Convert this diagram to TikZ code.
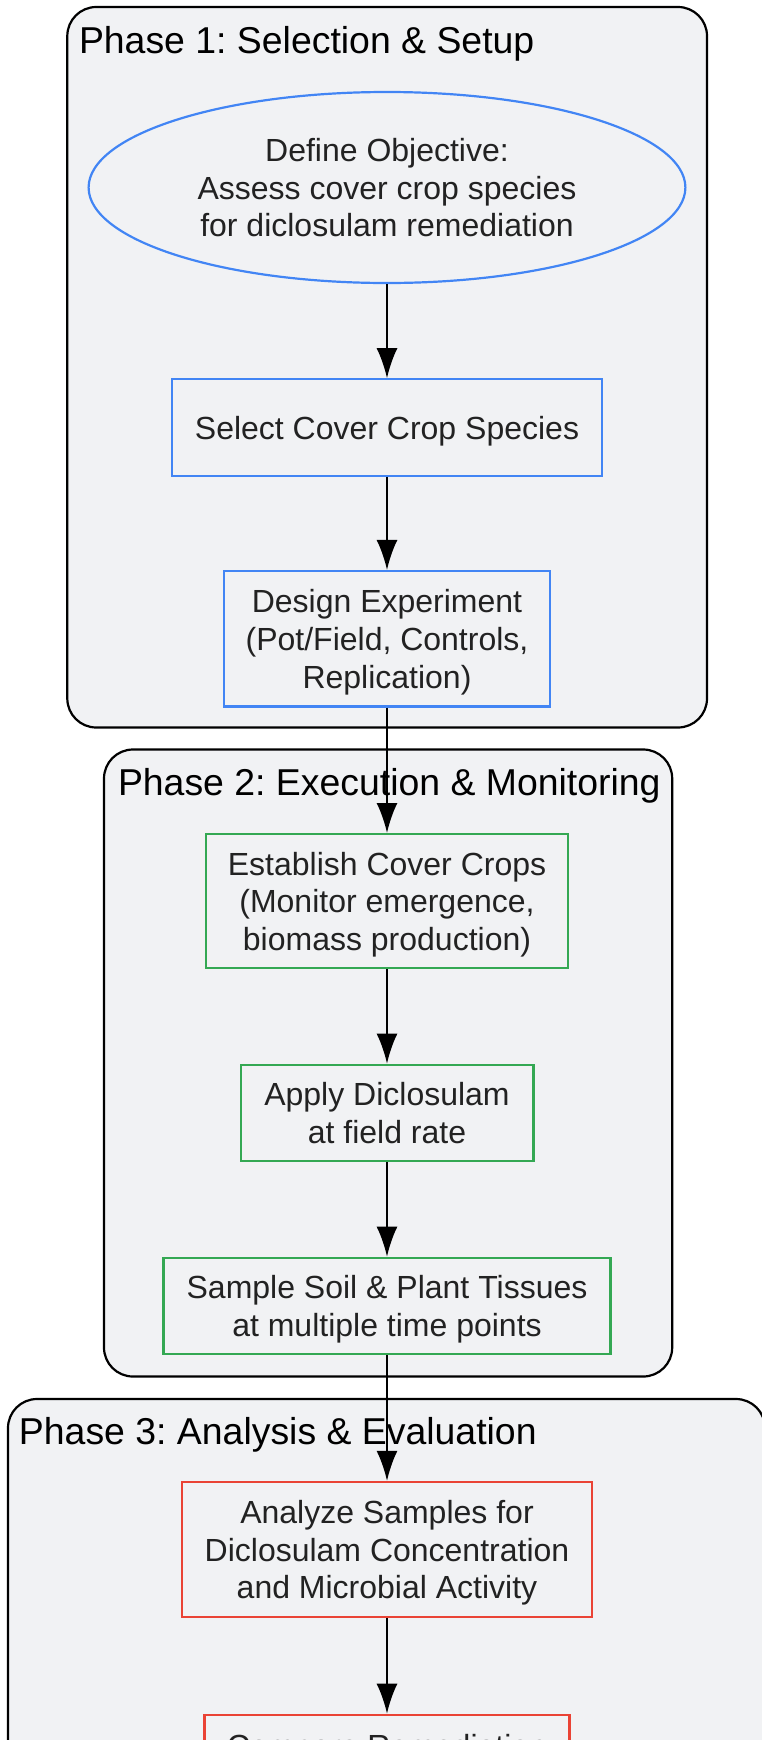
\documentclass[tikz,border=0pt]{standalone}
\usepackage{fontspec}
\setmainfont{Liberation Sans}
\usetikzlibrary{arrows.meta,shapes.geometric}
\frenchspacing

\definecolor{phasefill}{HTML}{F1F2F4}
\definecolor{objblue}{HTML}{4285F4}
\definecolor{rungreen}{HTML}{34A853}
\definecolor{evalred}{HTML}{EA4335}
\definecolor{txtgray}{HTML}{222222}

\tikzset{
  phase/.style={draw=black, line width=2.2pt, fill=phasefill, rounded corners=29pt},
  phasetitle/.style={anchor=base west, inner sep=0pt, font=\fontsize{37.4}{44}\selectfont},
  stepnode/.style={draw, line width=2.2pt, align=center, text=txtgray, inner sep=0pt, text depth=-2.5pt, font=\fontsize{32}{37.7}\selectfont},
  flow/.style={line width=2.2pt, -{Latex[length=30pt,width=21pt]}}
}

\begin{document}
\begin{tikzpicture}[x=1pt,y=-1pt]
\useasboundingbox (0,0) rectangle (762,1740);
\clip (0,0) rectangle (762,1740);

% phase frames
\draw[phase] (67.3,7) rectangle (707,727.5);
\path (78.8,53.3) node[phasetitle] (p1title) {Phase 1: Selection \& Setup};
\draw[phase] (104,749.5) rectangle (672.2,1376.5);
\path (117.8,795) node[phasetitle] (p2title) {Phase 2: Execution \& Monitoring};
\draw[phase] (8,1399) rectangle (765,1950);
\path (18.8,1444.5) node[phasetitle] (p3title) {Phase 3: Analysis \& Evaluation};

% phase 1
\path (387,187.5) node[stepnode, ellipse, draw=objblue, minimum width=596.8pt, minimum height=191pt] (obj)
  {Define Objective:\\Assess cover crop species\\for diclosulam remediation};
\path (387,427.5) node[stepnode, draw=objblue, minimum width=429.8pt, minimum height=96.4pt] (sel)
  {Select Cover Crop Species};
\path (387,638.8) node[stepnode, draw=objblue, minimum width=326pt, minimum height=135.5pt] (design)
  {Design Experiment\\(Pot/Field, Controls,\\Replication)};

% phase 2
\path (387,901.2) node[stepnode, draw=rungreen, minimum width=362.7pt, minimum height=134.2pt] (establish)
  {Establish Cover Crops\\(Monitor emergence,\\biomass production)};
\path (387,1113) node[stepnode, draw=rungreen, minimum width=292.8pt, minimum height=96.5pt] (apply)
  {Apply Diclosulam\\at field rate};
\path (387,1306) node[stepnode, draw=rungreen, minimum width=447pt, minimum height=96.5pt] (sample)
  {Sample Soil \& Plant Tissues\\at multiple time points};

% phase 3
\path (387,1549.6) node[stepnode, draw=evalred, minimum width=410.4pt, minimum height=135.3pt] (analyze)
  {Analyze Samples for\\Diclosulam Concentration\\and Microbial Activity};
\path (387,1713.7) node[stepnode, draw=evalred, anchor=north, minimum width=365pt, inner ysep=19pt, text depth=90pt] (cmp)
  {Compare Remediation};

% connectors
\draw[flow] (obj.south) -- (sel.north);
\draw[flow] (sel.south) -- (design.north);
\draw[flow] (design.south) -- (establish.north);
\draw[flow] (establish.south) -- (apply.north);
\draw[flow] (apply.south) -- (sample.north);
\draw[flow] (sample.south) -- (analyze.north);
\draw[flow] (analyze.south) -- (cmp.north);

\end{tikzpicture}
\end{document}
